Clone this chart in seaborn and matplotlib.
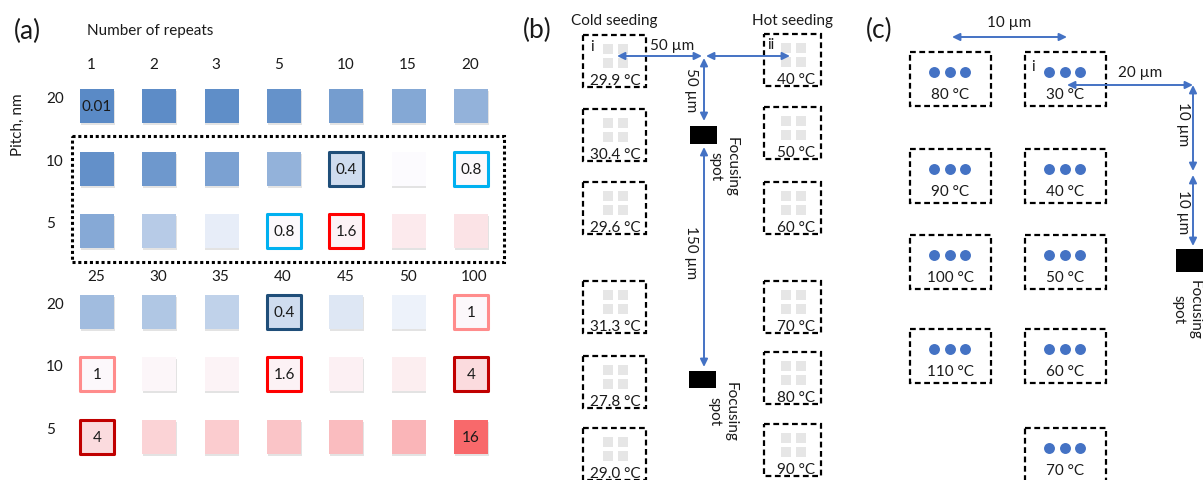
import numpy as np
import pandas as pd
import matplotlib
matplotlib.use("Agg")
import matplotlib.pyplot as plt
import seaborn as sns
from matplotlib.colors import LinearSegmentedColormap, TwoSlopeNorm
from matplotlib.patches import Rectangle

# ---- panel (a): density values per pitch / number of repeats
pitch_nm = [20, 10, 5]
repeats_top = [1, 2, 3, 5, 10, 15, 20]
repeats_bottom = [25, 30, 35, 40, 45, 50, 100]
values_top = [[0.01, 0.02, 0.03, 0.05, 0.1, 0.15, 0.2],
              [0.04, 0.08, 0.12, 0.2, 0.4, 0.6, 0.8],
              [0.16, 0.32, 0.48, 0.8, 1.6, 2.4, 3.2]]
values_bottom = [[0.25, 0.3, 0.35, 0.4, 0.45, 0.5, 1],
                 [1, 1.2, 1.4, 1.6, 1.8, 2, 4],
                 [4, 4.8, 5.6, 6.4, 7.2, 8, 16]]
border_colors = {0.4: '#1f4e79', 0.8: '#00b0f0', 1: '#ff8c8c',
                 1.6: '#ff0000', 4: '#c00000'}

# ---- panel (b): seeding temperatures
cold_temps = ['29.9', '30.4', '29.6', '31.3', '27.8', '29.0']
hot_temps = ['40', '50', '60', '70', '80', '90']

# ---- panel (c): temperatures
left_temps = ['80', '90', '100', '110']
right_temps = ['30', '40', '50', '60', '70']

BLUE = '#4472c4'
cmap = LinearSegmentedColormap.from_list('xl', ['#5A8AC6', '#FCFCFF', '#F8696B'])
norm = TwoSlopeNorm(vmin=0.01, vcenter=0.55, vmax=16)

sns.set_theme(style='white')
plt.rcParams['font.family'] = ['Lato', 'DejaVu Sans']
plt.rcParams['text.color'] = '#1a1a1a'
FS = 11

fig = plt.figure(figsize=(12.03, 4.81), dpi=100)
ax = fig.add_axes([0, 0, 1, 1])


def dashed_box(x0, y0, w, h):
    ax.add_patch(Rectangle((x0, y0), w, h, fill=False, ec='black', lw=1.6,
                           ls=(0, (2.6, 1.6))))


def arrow(p0, p1):
    ax.annotate('', xy=p1, xytext=p0,
                arrowprops=dict(arrowstyle='<|-|>,head_length=0.45,head_width=0.22',
                                color=BLUE, lw=1.4, shrinkA=0, shrinkB=0,
                                mutation_scale=10))


# ================= (a)
ax.text(27, 31, '(a)', fontsize=19, ha='center', va='center')
ax.text(87, 31, 'Number of repeats', fontsize=FS, ha='left', va='center')
ax.text(18, 125, 'Pitch, nm', fontsize=FS, rotation=90, ha='center', va='center')

col_x = 97 + 62.33 * np.arange(7)
blocks = [(repeats_top, values_top, [107, 170, 232], 65),
          (repeats_bottom, values_bottom, [313, 375, 438], 277)]
rows = []
for reps, vals, ys, hy in blocks:
    for c, n in enumerate(reps):
        ax.text(col_x[c] - 10, hy, str(n), fontsize=FS, ha='left', va='center')
    for r, p in enumerate(pitch_nm):
        ax.text(46, ys[r] - 8, str(p), fontsize=FS, ha='left', va='center')
        for c, n in enumerate(reps):
            rows.append(dict(x=col_x[c], y=ys[r], value=vals[r][c]))
cells = pd.DataFrame(rows)

# soft drop shadow
ax.scatter(cells.x + 0.8, cells.y + 2, marker='s', s=600, color='#b0b0b0',
           alpha=0.35, linewidths=0)
sns.scatterplot(data=cells, x='x', y='y', hue='value', palette=cmap,
                hue_norm=norm, marker='s', s=600, linewidth=0, legend=False, ax=ax)
framed = cells[cells.value.isin(list(border_colors))]
ax.scatter(framed.x, framed.y, marker='s', s=600, facecolors='none',
           edgecolors=[border_colors[v] for v in framed.value], linewidths=2.2)
vmin, vmax = cells.value.min(), cells.value.max()
for _, row in cells.iterrows():
    if row.value in border_colors or row.value in (vmin, vmax):
        ax.text(row.x, row.y, f'{row.value:g}', fontsize=FS, ha='center',
                va='center')

ax.add_patch(Rectangle((72, 137), 432, 126, fill=False, ec='black', lw=2.2,
                       ls=(0, (1, 0.9))))

# ================= (b)
ax.text(537, 30, '(b)', fontsize=19, ha='center', va='center')
ax.text(614, 21, 'Cold seeding', fontsize=FS, ha='center', va='center')
ax.text(792, 21, 'Hot seeding', fontsize=FS, ha='center', va='center')

left_tops = [36, 110, 183, 282, 357, 429]
right_tops = [35, 108, 183, 282, 353, 425]
for tops, temps, x0, w, dx in [(left_tops, cold_temps, 583, 63, 1),
                               (right_tops, hot_temps, 764, 57, 4)]:
    xc = x0 + w / 2
    for top, t in zip(tops, temps):
        dashed_box(x0, top, w, 52)
        for sx in (-7.5, 7.5):
            for sy in (14, 28):
                ax.add_patch(Rectangle((xc + 1 + sx - 5, top + sy - 5), 10, 10,
                                       color='#e6e6e6', lw=0))
        ax.text(xc + dx, top + 45, f'{t} °C', fontsize=FS, ha='center', va='center')
ax.text(592, 47, 'i', fontsize=FS, ha='center', va='center')
ax.text(771, 45, 'ii', fontsize=FS, ha='center', va='center')

arrow((617, 57), (702, 57))
arrow((706, 57), (790, 57))
arrow((704, 59), (704, 122))
arrow((704, 148), (704, 368))
ax.text(672, 46, '50 µm', fontsize=FS, ha='center', va='center')
ax.text(691, 90, '50 µm', fontsize=FS, rotation=270, ha='center', va='center')
ax.text(691, 253, '150 µm', fontsize=FS, rotation=270, ha='center', va='center')
ax.add_patch(Rectangle((690, 127), 27, 18, color='black', lw=0))
ax.add_patch(Rectangle((689, 372), 27, 17, color='black', lw=0))
ax.text(724, 167, 'Focusing\nspot', fontsize=FS, rotation=270, ha='center',
        va='center', multialignment='center')
ax.text(723, 412, 'Focusing\nspot', fontsize=FS, rotation=270, ha='center',
        va='center', multialignment='center')

# ================= (c)
ax.text(879, 30, '(c)', fontsize=19, ha='center', va='center')
c_tops = [53, 150, 236, 330, 429]
dots = []
for temps, x0 in [(left_temps, 910), (right_temps, 1025)]:
    for top, t in zip(c_tops, temps):
        dashed_box(x0, top, 81, 54)
        for k in (-15.5, 0, 15.5):
            dots.append(dict(x=x0 + 39.5 + k, y=top + 20))
        ax.text(x0 + 40.5, top + 42, f'{t} °C', fontsize=FS, ha='center', va='center')
dots = pd.DataFrame(dots)
sns.scatterplot(data=dots, x='x', y='y', color=BLUE, s=62, linewidth=0,
                legend=False, ax=ax)
ax.text(1033, 67, 'i', fontsize=FS, ha='center', va='center')

arrow((952, 38), (1067, 38))
arrow((1067, 86), (1193, 86))
arrow((1193, 86), (1193, 172))
arrow((1193, 176), (1193, 247))
ax.text(1009, 23, '10 µm', fontsize=FS, ha='center', va='center')
ax.text(1140, 73, '20 µm', fontsize=FS, ha='center', va='center')
ax.text(1183, 124, '10 µm', fontsize=FS, rotation=270, ha='center', va='center')
ax.text(1183, 212, '10 µm', fontsize=FS, rotation=270, ha='center', va='center')
ax.add_patch(Rectangle((1176, 250), 40, 23, color='black', lw=0))
ax.text(1187, 310, 'Focusing\nspot', fontsize=FS, rotation=270, ha='center',
        va='center', multialignment='center')

ax.set_xlim(0, 1203)
ax.set_ylim(481, 0)
ax.axis('off')
fig.savefig('out.png', dpi=100)
